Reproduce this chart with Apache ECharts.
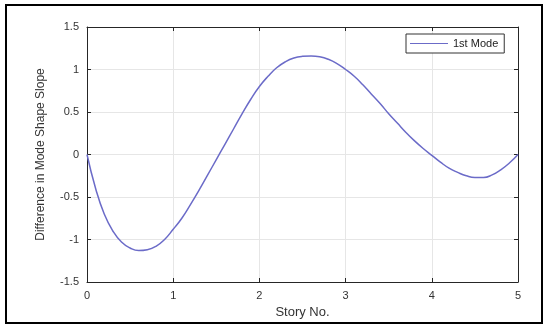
<!DOCTYPE html>
<html>
<head>
<meta charset="utf-8">
<script src="https://cdn.jsdelivr.net/npm/echarts@6/dist/echarts.min.js"></script>
<style>html,body{margin:0;padding:0;background:#fff;}#c{width:547px;height:325px;}</style>
</head>
<body>
<div id="c"></div>
<script>
const storyX = [0,0.1,0.2,0.3,0.4,0.5,0.6,0.7,0.8,0.9,1.0,1.1,1.2,1.3,1.4,1.5,1.6,1.7,1.8,1.9,2.0,2.1,2.2,2.3,2.4,2.5,2.6,2.7,2.8,2.9,3.0,3.1,3.2,3.3,3.4,3.5,3.6,3.7,3.8,3.9,4.0,4.1,4.2,4.3,4.4,4.5,4.6,4.7,4.8,4.9,5.0];
const mode1 = [0,-0.40,-0.70,-0.90,-1.03,-1.10,-1.13,-1.12,-1.08,-1.00,-0.88,-0.75,-0.59,-0.42,-0.24,-0.06,0.12,0.30,0.48,0.65,0.80,0.92,1.02,1.09,1.135,1.155,1.16,1.15,1.12,1.07,1.00,0.92,0.82,0.71,0.60,0.48,0.37,0.26,0.16,0.07,-0.01,-0.09,-0.16,-0.21,-0.25,-0.27,-0.27,-0.24,-0.18,-0.10,0.0];
const seriesName = '1st Mode';
const xTitle = 'Story No.';
const yTitle = 'Difference in Mode Shape Slope';

const font = 'Liberation Sans, Arial, sans-serif';
const chart = echarts.init(document.getElementById('c'), null, {renderer:'canvas'});
const axisCommon = {
  axisLine:{show:true,onZero:false,lineStyle:{color:'#262626',width:1}},
  axisTick:{show:true,inside:true,length:4,lineStyle:{color:'#262626'}},
};
chart.setOption({
  animation:false,
  backgroundColor:'#fff',
  graphic:[{type:'rect',shape:{x:6,y:5,width:536,height:318},style:{fill:'none',stroke:'#000',lineWidth:2},silent:true,z:100}],
  grid:{left:87,right:29,top:27,bottom:43,containLabel:false},
  legend:{
    data:[{name:seriesName,icon:'rect'}],
    left:406,top:34,itemWidth:38,itemHeight:1,itemGap:4,
    padding:[4,6,4,4],
    borderColor:'#333',borderWidth:1,backgroundColor:'#fff',
    textStyle:{fontFamily:font,fontSize:11,color:'#222'}
  },
  xAxis:[
    Object.assign({type:'value',min:0,max:5,interval:1,position:'bottom',
      name:xTitle,nameLocation:'middle',nameGap:21,
      nameTextStyle:{fontFamily:font,fontSize:13,color:'#333'},
      axisLabel:{fontFamily:font,fontSize:11,color:'#333',margin:8},
      splitLine:{show:true,lineStyle:{color:'#e6e6e6'}}},axisCommon),
    Object.assign({type:'value',min:0,max:5,interval:1,position:'top',
      axisLabel:{show:false},splitLine:{show:false}},axisCommon)
  ],
  yAxis:[
    Object.assign({type:'value',min:-1.5,max:1.5,interval:0.5,position:'left',
      name:yTitle,nameLocation:'middle',nameGap:40,
      nameTextStyle:{fontFamily:font,fontSize:12,color:'#333'},
      axisLabel:{fontFamily:font,fontSize:11,color:'#333',margin:8},
      splitLine:{show:true,lineStyle:{color:'#e6e6e6'}}},axisCommon),
    Object.assign({type:'value',min:-1.5,max:1.5,interval:0.5,position:'right',
      axisLabel:{show:false},splitLine:{show:false}},axisCommon)
  ],
  series:[{
    name:seriesName,type:'line',smooth:true,showSymbol:false,
    data:storyX.map((x,i)=>[x,mode1[i]]),
    lineStyle:{color:'#6b6bc8',width:1.5},
    itemStyle:{color:'#6b6bc8'}
  }]
});
</script>
</body>
</html>
